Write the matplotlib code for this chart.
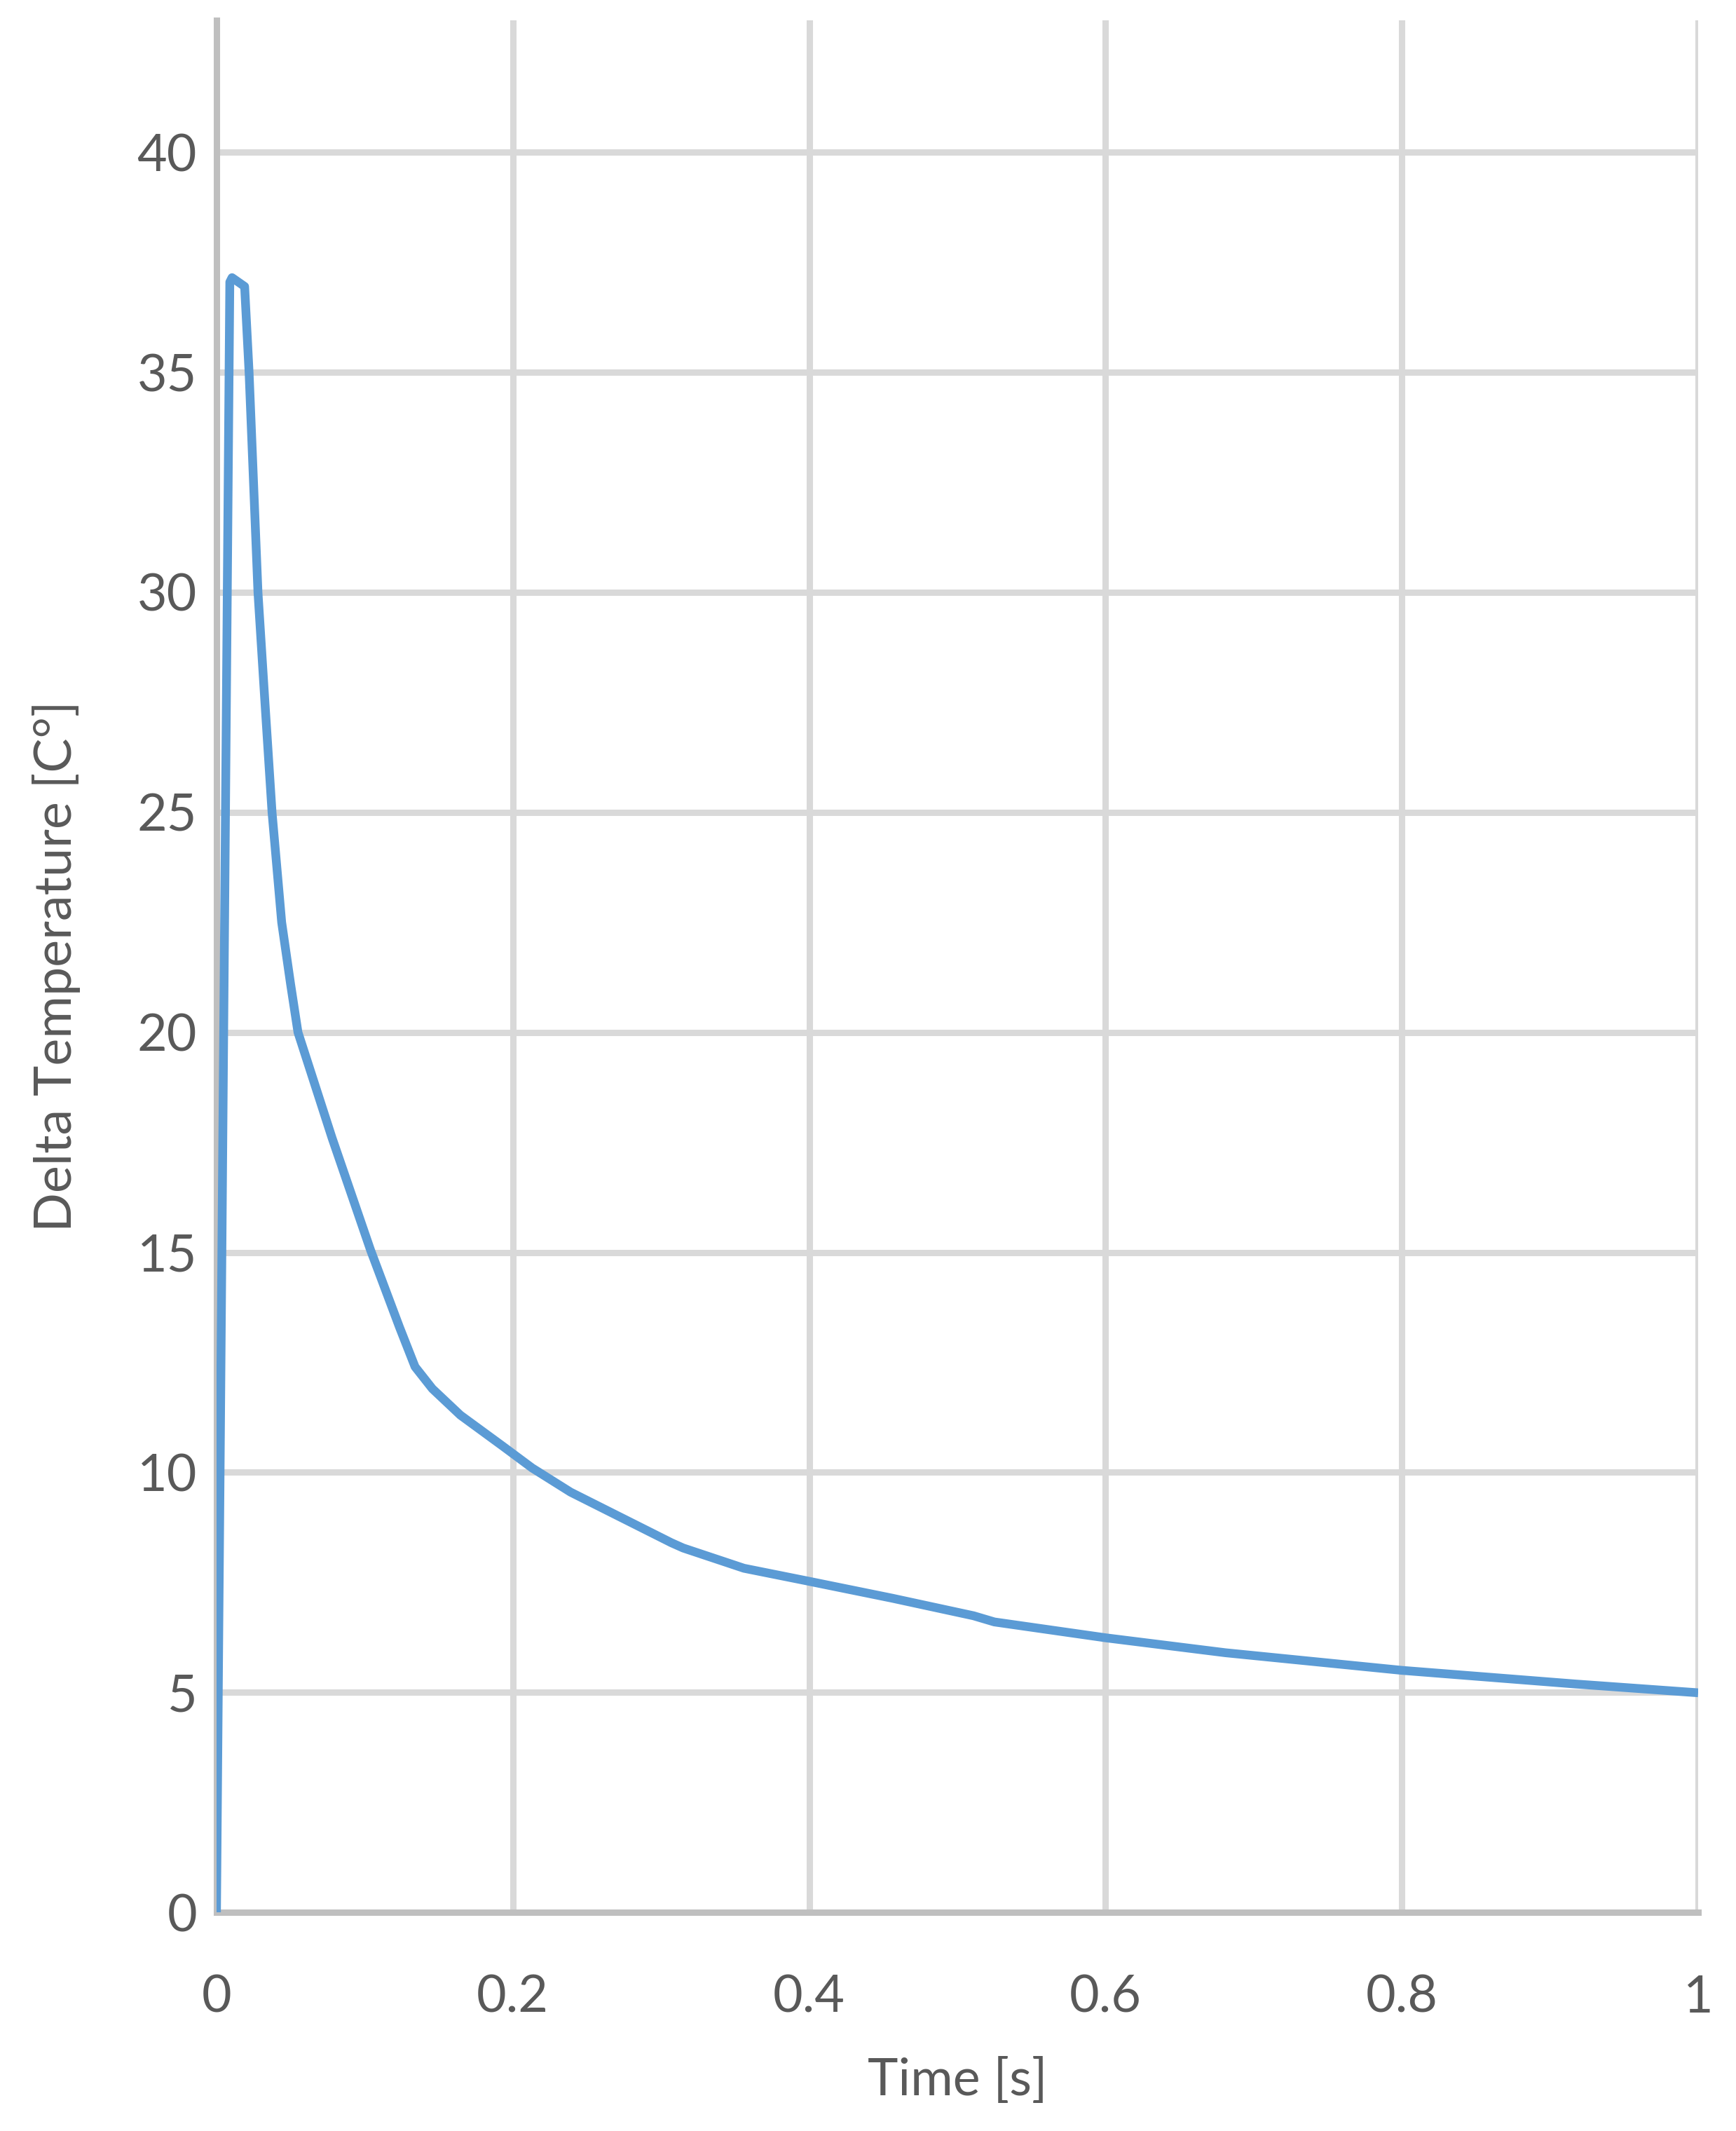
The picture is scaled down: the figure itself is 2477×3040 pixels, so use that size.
import matplotlib
matplotlib.use("Agg")
import matplotlib.pyplot as plt

# Delta temperature response
time_s = [0, 0.009, 0.0105, 0.019, 0.022, 0.025, 0.028, 0.0327, 0.0375,
          0.044, 0.050, 0.055, 0.078, 0.104, 0.1235, 0.134, 0.1457, 0.1646,
          0.193, 0.213, 0.239, 0.307, 0.315, 0.356, 0.399, 0.456, 0.511,
          0.525, 0.6, 0.681, 0.8, 0.917, 1.0]
delta_t = [0, 37.05, 37.15, 36.95, 35.0, 32.5, 30.0, 27.5, 25.0,
           22.5, 21.1, 20.0, 17.6, 15.05, 13.3, 12.4, 11.9, 11.3,
           10.6, 10.1, 9.55, 8.4, 8.28, 7.82, 7.53, 7.14, 6.74,
           6.6, 6.24, 5.9, 5.5, 5.19, 4.99]

x_ticks = [0, 0.2, 0.4, 0.6, 0.8, 1]
x_labels = ["0", "0.2", "0.4", "0.6", "0.8", "1"]
y_ticks = [0, 5, 10, 15, 20, 25, 30, 35, 40]

text_col = "#595959"
plt.rcParams['font.family'] = ['Lato', 'DejaVu Sans']

fig = plt.figure(figsize=(24.77, 30.4), dpi=100)
ax = fig.add_axes([0.1247, 0.1026, 0.9782 - 0.1247, 0.9905 - 0.1026])

ax.plot(time_s, delta_t, color="#5B9BD5", lw=9, solid_joinstyle="round",
        solid_capstyle="butt", zorder=3)

ax.set_xlim(0, 1)
ax.set_ylim(0, 43)
ax.set_xticks(x_ticks)
ax.set_xticklabels(x_labels)
ax.set_yticks(y_ticks)

ax.grid(True, color="#D9D9D9", lw=6.5)
ax.set_axisbelow(True)
for s in ["top", "right"]:
    ax.spines[s].set_visible(False)
for s in ["left", "bottom"]:
    ax.spines[s].set_color("#BFBFBF")
    ax.spines[s].set_linewidth(6.5)
    ax.spines[s].set_zorder(2.5)

ax.tick_params(axis="both", length=0, labelsize=53, labelcolor=text_col)
ax.tick_params(axis="y", pad=20)
ax.tick_params(axis="x", pad=64)

ax.set_xlabel("Time [s]", fontsize=53, color=text_col, va="center")
ax.xaxis.set_label_coords(0.5, -0.089)
ax.set_ylabel("Delta Temperature [C°]", fontsize=53, color=text_col,
              va="center", ha="center")
ax.yaxis.set_label_coords(-0.108, 0.5)

fig.savefig("out.png", dpi=100)
